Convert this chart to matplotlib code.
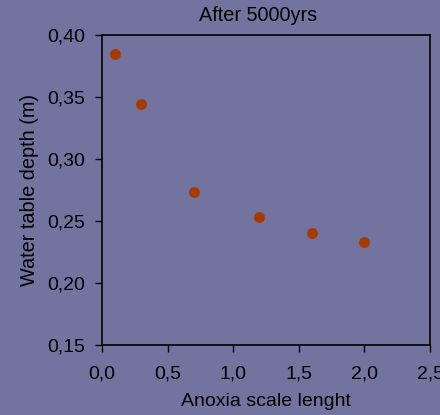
import matplotlib
matplotlib.use('Agg')
import matplotlib.pyplot as plt
import matplotlib.ticker as mticker

### Data
anoxia_len = [0.1, 0.3, 0.7, 1.2, 1.6, 2.0]
wt_depth = [0.385, 0.344, 0.273, 0.253, 0.240, 0.233]

x_ticks = [0.0, 0.5, 1.0, 1.5, 2.0, 2.5]
y_ticks = [0.15, 0.20, 0.25, 0.30, 0.35, 0.40]

bg = '#7373a0'
plt.rcParams['font.family'] = ['Liberation Sans', 'DejaVu Sans']

fig = plt.figure(figsize=(4.4, 4.15), dpi=100, facecolor=bg)
ax = fig.add_axes([0.2318, 0.1687, 0.7455, 0.747])
ax.set_facecolor(bg)

ax.scatter(anoxia_len, wt_depth, s=62, color='#a63a00', zorder=3, linewidths=0)

ax.set_xlim(0, 2.5)
ax.set_ylim(0.15, 0.40)
ax.set_xticks(x_ticks)
ax.set_yticks(y_ticks)
ax.xaxis.set_major_formatter(mticker.FuncFormatter(lambda v, p: f'{v:.1f}'.replace('.', ',')))
ax.yaxis.set_major_formatter(mticker.FuncFormatter(lambda v, p: f'{v:.2f}'.replace('.', ',')))
ax.tick_params(direction='out', length=5, width=1, labelsize=14, color='black')
ax.tick_params(axis='y', pad=7)
ax.tick_params(axis='x', pad=10)
for s in ax.spines.values():
    s.set_linewidth(1.2)

ax.set_xlabel('Anoxia scale lenght', fontsize=14, labelpad=7)
ax.set_ylabel('Water table depth (m)', fontsize=14.3, labelpad=6)
ax.set_title('After 5000yrs', fontsize=14.3, pad=10, x=0.477)

fig.savefig('out.png', dpi=100, facecolor=bg)
